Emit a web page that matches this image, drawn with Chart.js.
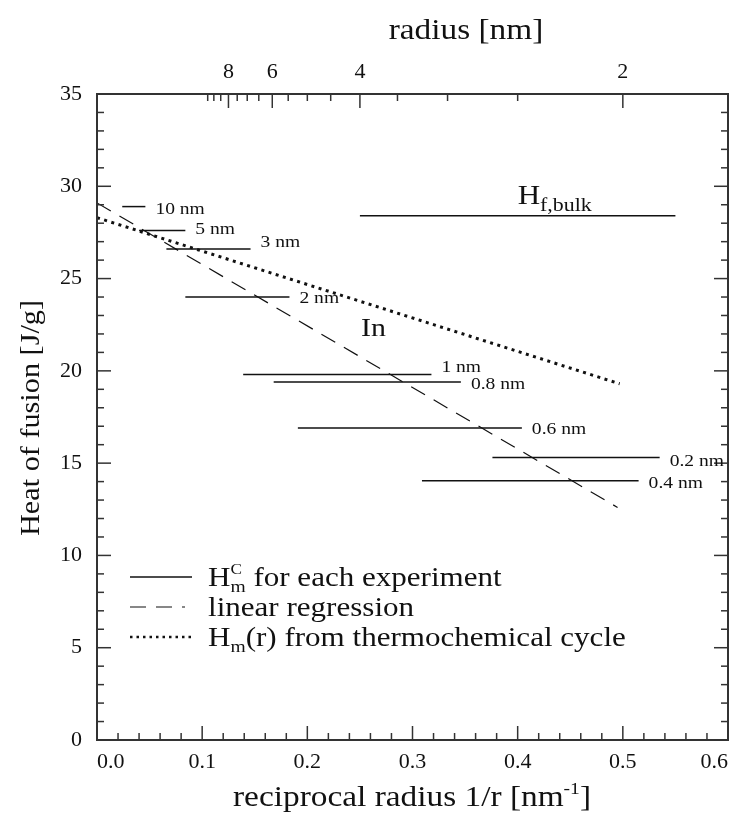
<!DOCTYPE html>
<html>
<head>
<meta charset="utf-8">
<script src="https://cdn.jsdelivr.net/npm/chart.js@4.4.1/dist/chart.umd.min.js"></script>
<style>
html,body{margin:0;padding:0;background:#fff;}
#wrap{width:738px;height:818px;position:relative;}
</style>
</head>
<body>
<div id="wrap"><canvas id="c"></canvas></div>
<script>
// ---------------- data ----------------
const sizeLabels = ['10 nm', '5 nm', '3 nm', '2 nm', '1 nm', '0.8 nm', '0.6 nm', '0.2 nm', '0.4 nm'];
const segStart   = [0.024, 0.040, 0.066, 0.084, 0.139, 0.168, 0.191, 0.376, 0.309];
const segEnd     = [0.046, 0.084, 0.146, 0.183, 0.318, 0.346, 0.404, 0.535, 0.515];
const segHeat    = [28.9, 27.6, 26.6, 24.0, 19.8, 19.4, 16.9, 15.3, 14.05];

const bulkRange = [0.25, 0.55];
const bulkHeat  = 28.4;

const regressionX = [0.0, 0.495];
const regressionY = [29.1, 12.6];

const cycleX = [0.0, 0.497];
const cycleY = [28.3, 19.3];

const xTickValues = [0, 0.1, 0.2, 0.3, 0.4, 0.5, 0.6];
const xTickLabels = ['0.0', '0.1', '0.2', '0.3', '0.4', '0.5', '0.6'];
const yTickValues = [0, 5, 10, 15, 20, 25, 30, 35];
const yTickLabels = ['0', '5', '10', '15', '20', '25', '30', '35'];
const radiusMajor = [8, 6, 4, 2];
const radiusMinor = [9.5, 9, 8.5, 7.5, 7, 6.5, 5.5, 5, 4.5, 3.5, 3, 2.5];

// ---------------- styling ----------------
const FONT = '"Liberation Serif","Times New Roman",serif';
const TEXT = '#111';
const AXIS = '#333';
const LINE = '#111';
const SX = 1.15;
const labelDy = [1, -3, -8, 0, -9, 1, 0, 2, 1];

function pieceFont(p){ return p.size + 'px ' + FONT; }
function layoutRich(ctx, pieces){
  const out = []; let cx = 0;
  for (let i = 0; i < pieces.length; i++){
    const p = pieces[i]; ctx.font = pieceFont(p);
    const w = ctx.measureText(p.t).width;
    if (p.stack && pieces[i+1]){
      const q = pieces[i+1]; ctx.font = pieceFont(q);
      const w2 = ctx.measureText(q.t).width;
      out.push({p: p, x: cx}, {p: q, x: cx});
      cx += Math.max(w, w2); i++;
    } else { out.push({p: p, x: cx}); cx += w; }
  }
  return {items: out, width: cx};
}
function drawRich(ctx, pieces, x, y, align, sx){
  sx = sx || SX;
  const L = layoutRich(ctx, pieces); const W = L.width * sx;
  const x0 = align === 'center' ? x - W/2 : align === 'right' ? x - W : x;
  ctx.save(); ctx.translate(x0, y); ctx.scale(sx, 1);
  ctx.fillStyle = TEXT; ctx.textAlign = 'left'; ctx.textBaseline = 'alphabetic';
  for (const it of L.items){ ctx.font = pieceFont(it.p); ctx.fillText(it.p.t, it.x, it.p.dy || 0); }
  ctx.restore();
}
function seg(ctx, x1, y1, x2, y2){ ctx.beginPath(); ctx.moveTo(x1, y1); ctx.lineTo(x2, y2); ctx.stroke(); }

const decor = {
  id: 'decor',
  afterDraw(chart){
    const ctx = chart.ctx, ca = chart.chartArea;
    const xs = chart.scales.x, ys = chart.scales.y, xt = chart.scales.x2;
    ctx.save();
    // frame
    ctx.strokeStyle = AXIS; ctx.lineWidth = 2; ctx.setLineDash([]);
    ctx.strokeRect(ca.left, ca.top, ca.right - ca.left, ca.bottom - ca.top);
    // inward ticks
    ctx.lineWidth = 1.5;
    for (let i = 0; i <= 30; i++){
      const px = xs.getPixelForValue(i * 0.02);
      const len = (i % 5 === 0) ? 14 : 7;
      seg(ctx, px, ca.bottom, px, ca.bottom - len);
    }
    for (let v = 0; v <= 35; v++){
      const py = ys.getPixelForValue(v);
      const len = (v % 5 === 0) ? 14 : 7;
      seg(ctx, ca.left, py, ca.left + len, py);
      seg(ctx, ca.right, py, ca.right - len, py);
    }
    radiusMajor.forEach(r => { const px = xt.getPixelForValue(1/r); seg(ctx, px, ca.top, px, ca.top + 14); });
    radiusMinor.forEach(r => { const px = xt.getPixelForValue(1/r); seg(ctx, px, ca.top, px, ca.top + 7); });

    // axis titles
    drawRich(ctx, [{t: 'radius [nm]', size: 29}], 466, 39, 'center');
    drawRich(ctx, [{t: 'reciprocal radius 1/r [nm', size: 29}, {t: '-1', size: 17, dy: -12}, {t: ']', size: 29}], 412, 806, 'center');
    ctx.save(); ctx.translate(39, 418); ctx.rotate(-Math.PI/2);
    drawRich(ctx, [{t: 'Heat of fusion [J/g]', size: 27}], 0, 0, 'center', 1.12);
    ctx.restore();

    // size labels next to each experiment segment
    sizeLabels.forEach((lab, i) => {
      const px = xs.getPixelForValue(segEnd[i]) + 10;
      const py = ys.getPixelForValue(segHeat[i]) + labelDy[i] + 6;
      drawRich(ctx, [{t: lab, size: 17}], px, py, 'left');
    });
    // bulk label
    drawRich(ctx, [{t: 'H', size: 27}, {t: 'f,bulk', size: 19, dy: 7}],
      xs.getPixelForValue(0.40), ys.getPixelForValue(bulkHeat) - 12, 'left');
    // element label
    drawRich(ctx, [{t: 'In', size: 26}], xs.getPixelForValue(0.251), ys.getPixelForValue(22.4) + 9, 'left');

    // legend
    const lx1 = 130, lx2 = 192, tx = 208;
    const rows = [577, 607, 637];
    ctx.strokeStyle = LINE;
    ctx.lineWidth = 1.5; ctx.setLineDash([]); seg(ctx, lx1, rows[0], lx2, rows[0]);
    ctx.lineWidth = 1.2; ctx.setLineDash([16, 10]); seg(ctx, lx1, rows[1], lx1 + 55, rows[1]);
    ctx.lineWidth = 2.5; ctx.setLineDash([2.5, 4]); seg(ctx, lx1, rows[2], lx2, rows[2]);
    ctx.setLineDash([]);
    drawRich(ctx, [{t: 'H', size: 27}, {t: 'C', size: 15, dy: -12, stack: true}, {t: 'm', size: 17, dy: 6}, {t: ' for each experiment', size: 27}], tx, rows[0] + 9, 'left');
    drawRich(ctx, [{t: 'linear regression', size: 27}], tx, rows[1] + 9, 'left');
    drawRich(ctx, [{t: 'H', size: 27}, {t: 'm', size: 17, dy: 6}, {t: '(r) from thermochemical cycle', size: 27}], tx, rows[2] + 9, 'left');
    ctx.restore();
  }
};

// ---------------- datasets ----------------
const datasets = [];
sizeLabels.forEach((lab, i) => {
  datasets.push({
    label: lab,
    data: [{x: segStart[i], y: segHeat[i]}, {x: segEnd[i], y: segHeat[i]}],
    showLine: true, borderColor: LINE, borderWidth: 1.5, pointRadius: 0
  });
});
datasets.push({
  label: 'Hf,bulk',
  data: [{x: bulkRange[0], y: bulkHeat}, {x: bulkRange[1], y: bulkHeat}],
  showLine: true, borderColor: LINE, borderWidth: 1.5, pointRadius: 0
});
datasets.push({
  label: 'linear regression',
  data: regressionX.map((x, i) => ({x: x, y: regressionY[i]})),
  showLine: true, borderColor: LINE, borderWidth: 1.2, borderDash: [16, 10], pointRadius: 0
});
datasets.push({
  label: 'Hm(r) from thermochemical cycle',
  data: cycleX.map((x, i) => ({x: x, y: cycleY[i]})),
  showLine: true, borderColor: LINE, borderWidth: 3, borderDash: [3, 4.5], pointRadius: 0
});

const tickFont = {family: FONT, size: 22};

new Chart(document.getElementById('c'), {
  type: 'scatter',
  data: {datasets: datasets},
  options: {
    responsive: true, maintainAspectRatio: false, animation: false,
    devicePixelRatio: 1,
    layout: {padding: {left: 0, right: 10, top: 0, bottom: 0}},
    plugins: {legend: {display: false}, tooltip: {enabled: false}},
    scales: {
      x: {
        type: 'linear', position: 'bottom', min: 0, max: 0.6,
        afterBuildTicks: s => { s.ticks = xTickValues.map(v => ({value: v})); },
        afterFit: s => { s.height = 78; },
        grid: {display: false, drawTicks: false}, border: {display: false},
        ticks: {align: 'inner', padding: 9, font: tickFont, color: TEXT, autoSkip: false, maxRotation: 0,
                callback: (v, i) => xTickLabels[i]}
      },
      x2: {
        type: 'linear', position: 'top', min: 0, max: 0.6,
        afterBuildTicks: s => { s.ticks = radiusMajor.map(r => ({value: 1 / r})); },
        afterFit: s => { s.height = 94; },
        grid: {display: false, drawTicks: false}, border: {display: false},
        ticks: {padding: 9, font: tickFont, color: TEXT, autoSkip: false, maxRotation: 0,
                callback: (v, i) => String(radiusMajor[i])}
      },
      y: {
        type: 'linear', position: 'left', min: 0, max: 35,
        afterBuildTicks: s => { s.ticks = yTickValues.map(v => ({value: v})); },
        afterFit: s => { s.width = 97; },
        grid: {display: false, drawTicks: false}, border: {display: false},
        ticks: {padding: 15, font: tickFont, color: TEXT, autoSkip: false,
                callback: (v, i) => yTickLabels[i]}
      }
    }
  },
  plugins: [decor]
});
</script>
</body>
</html>
